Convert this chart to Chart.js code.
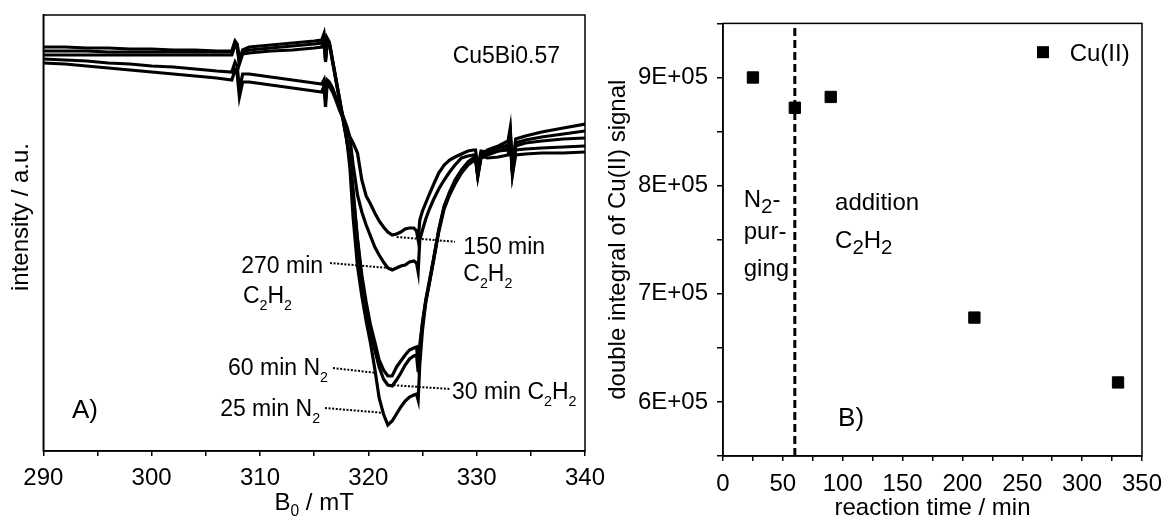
<!DOCTYPE html>
<html>
<head>
<meta charset="utf-8">
<script src="https://cdn.jsdelivr.net/npm/chart.js@4.4.1/dist/chart.umd.min.js"></script>
<style>
  html, body { margin: 0; padding: 0; background: #fff; overflow: hidden; width: 1171px; height: 517px; }
  #left { position: absolute; left: 0; top: 0; width: 650px; height: 530px; }
  #right { position: absolute; left: 590px; top: 0; width: 581px; height: 530px; }
</style>
</head>
<body>
<div id="left"><canvas id="epr"></canvas></div>
<div id="right"><canvas id="integral"></canvas></div>
<script>
// --- panel A: EPR spectra, field in mT, intensity in arbitrary units ---
const field = [290, 292, 294, 296, 298, 300, 302, 304, 306, 307.4, 307.7, 307.9, 308.1, 308.4,
  309, 311, 313, 315, 315.7, 315.9, 316.05, 316.2, 316.4, 316.7, 317, 317.3, 317.6, 318, 318.3,
  318.6, 319, 319.4, 319.8, 320.2, 320.6, 321, 321.4, 321.8, 322.2, 322.6, 323, 323.4, 323.8,
  324.2, 324.45, 324.6, 324.75, 325, 325.3, 325.6, 326, 326.5, 327, 327.5, 328, 328.6, 329.2,
  329.7, 329.9, 330.1, 330.4, 331, 332, 332.9, 333.1, 333.3, 333.6, 334.5, 336, 338, 340];

const int25N2 = [186, 186, 185, 185, 184, 184, 183, 183, 182, 182, 192, 189, 173, 183, 186, 188, 190, 192,
  193, 199, 175, 195, 191, 173, 155, 137, 119, 95, 65, 15, -33, -63, -88, -110, -136, -165, -181, -192,
  -188, -181, -174, -168, -164, -162, -161, -167, -132, -97, -69, -52, -28, 3, 27, 41, 53, 63, 71, 75,
  76, 58, 78, 83, 87, 92, 105, 63, 94, 97, 101, 105, 109];
const int60N2 = [182, 182, 182, 181, 181, 181, 181, 181, 181, 181, 191, 188, 171, 181, 183, 185, 187, 189,
  190, 197, 173, 193, 190, 172, 154, 136, 118, 94, 73, 38, -6, -42, -69, -92, -109, -127, -137, -143,
  -143, -134, -128, -122, -117, -115, -114, -129, -112, -89, -67, -50, -27, 3, 26, 40, 51, 61, 69, 73,
  74, 57, 76, 80, 85, 88, 101, 62, 90, 93, 96, 99, 102];
const int30C2H2 = [178, 178, 178, 178, 178, 178, 178, 178, 178, 178, 188, 185, 169, 179, 180, 182, 183, 185,
  186, 194, 171, 190, 189, 171, 153, 135, 117, 93, 75, 43, -7, -48, -75, -98, -117, -134, -146, -152,
  -153, -147, -140, -132, -126, -123, -122, -139, -117, -91, -69, -52, -29, 1, 24, 38, 49, 60, 68, 72,
  73, 56, 75, 78, 82, 85, 97, 61, 87, 90, 92, 94, 95];
const int150C2H2 = [174, 173, 172, 170, 169, 167, 166, 164, 162, 161, 171, 167, 143, 159, 159, 156, 153, 150,
  149, 153, 133, 153, 151, 145, 136, 127, 119, 107, 96, 90, 80, 53, 37, 29, 20, 12, 6, 1,
  -2, -1, 1, 4, 5, 5, 2, -7, 13, 22, 30, 38, 48, 60, 68, 73, 76, 79, 82, 83,
  83, 65, 82, 81, 82, 83, 95, 60, 83, 84, 85, 86, 87];
const int270C2H2 = [170, 169, 167, 165, 163, 161, 159, 157, 155, 153, 163, 159, 136, 151, 151, 148, 145, 142,
  141, 147, 126, 149, 147, 141, 133, 124, 116, 105, 95, 68, 38, 21, 8, -3, -14, -22, -29, -35,
  -37, -35, -33, -32, -29, -28, -30, -39, -7, 3, 14, 23, 33, 44, 53, 61, 68, 75, 77, 78,
  78, 61, 77, 75, 76, 78, 91, 58, 78, 79, 80, 80, 81];

// --- panel B: double integral vs reaction time ---
const reactionTime = [25, 60, 90, 210, 330];
const cuSignal = [900000, 872000, 882000, 678000, 618000];
const purgeEnd = 60;

Chart.defaults.font.family = '"Liberation Sans", Arial, sans-serif';
Chart.defaults.font.size = 24;
Chart.defaults.color = '#000';

function parts(str) {
  return str.split(/(_\w)/).filter(Boolean).map(s => s[0] === '_' ? [s.slice(1), true] : [s, false]);
}

function richText(ctx, str, x, yMid, size, align, subScale, subDrop) {
  const segs = parts(str);
  const fontFor = sub => (sub ? size * subScale : size) + 'px "Liberation Sans", Arial, sans-serif';
  const widths = segs.map(([t, sub]) => { ctx.font = fontFor(sub); return ctx.measureText(t).width; });
  const total = widths.reduce((a, b) => a + b, 0);
  let cx = align === 'right' ? x - total : align === 'center' ? x - total / 2 : x;
  const base = yMid + 0.358 * size;
  ctx.textAlign = 'left';
  ctx.textBaseline = 'alphabetic';
  segs.forEach(([t, sub], i) => {
    ctx.font = fontFor(sub);
    ctx.fillText(t, cx, sub ? base + size * subDrop : base);
    cx += widths[i];
  });
}

const frame = {
  id: 'frame',
  afterDraw(chart) {
    const { ctx, chartArea: a } = chart;
    ctx.save();
    ctx.strokeStyle = '#000';
    ctx.lineWidth = 1.5;
    ctx.strokeRect(a.left, a.top, a.right - a.left, a.bottom - a.top);
    ctx.restore();
  }
};

// label positions in data units (mT, a.u.)
const eprNotes = [
  { t: '150 min', b: 328.77, i: -13, align: 'left' },
  { t: 'C_2H_2', b: 328.77, i: -40, align: 'left' },
  { t: '270 min', b: 315.82, i: -32, align: 'right' },
  { t: 'C_2H_2', b: 308.43, i: -62, align: 'left' },
  { t: '60 min N_2', b: 316.28, i: -134, align: 'right' },
  { t: '30 min C_2H_2', b: 327.72, i: -158, align: 'left' },
  { t: '25 min N_2', b: 315.55, i: -175, align: 'right' },
];
const eprLeaders = [
  [322.62, -4, 328.0, -8.7],
  [316.46, -30, 322.16, -35.3],
  [316.74, -135, 320.8, -140],
  [322.0, -152, 327.54, -156],
  [316.0, -175, 321.23, -179.7],
];

const eprText = {
  id: 'eprText',
  afterDraw(chart) {
    const { ctx, scales: { x, y } } = chart;
    ctx.save();
    ctx.fillStyle = '#000';
    ctx.strokeStyle = '#000';
    ctx.lineWidth = 2;
    ctx.setLineDash([2, 1.6]);
    eprLeaders.forEach(l => {
      ctx.beginPath();
      ctx.moveTo(x.getPixelForValue(l[0]), y.getPixelForValue(l[1]));
      ctx.lineTo(x.getPixelForValue(l[2]), y.getPixelForValue(l[3]));
      ctx.stroke();
    });
    ctx.setLineDash([]);
    eprNotes.forEach(n => richText(ctx, n.t, x.getPixelForValue(n.b), y.getPixelForValue(n.i), 23, n.align, 0.62, 0.28));
    richText(ctx, 'A)', x.getPixelForValue(292.65), y.getPixelForValue(-176), 26, 'left', 1, 0);
    richText(ctx, 'Cu5Bi0.57', x.getPixelForValue(337.7), y.getPixelForValue(178), 23, 'right', 1, 0);
    // axis titles
    richText(ctx, 'B_0 / mT', (x.left + x.right) / 2, 501, 24, 'center', 0.65, 0.28);
    ctx.translate(21, 217);
    ctx.rotate(-Math.PI / 2);
    ctx.font = '24px "Liberation Sans", Arial, sans-serif';
    ctx.textAlign = 'center';
    ctx.textBaseline = 'middle';
    ctx.fillText('intensity / a.u.', 0, 0);
    ctx.restore();
  }
};

const spectra = [
  ['25 min N2', int25N2], ['60 min N2', int60N2], ['30 min C2H2', int30C2H2],
  ['150 min C2H2', int150C2H2], ['270 min C2H2', int270C2H2],
];

new Chart(document.getElementById('epr'), {
  type: 'line',
  data: {
    datasets: spectra.map(([label, vals]) => ({
      label,
      data: field.map((b, i) => ({ x: b, y: vals[i] })),
      borderColor: '#000',
      borderWidth: 3.2,
      pointRadius: 0,
      tension: 0,
      fill: false,
    })),
  },
  options: {
    animation: false,
    responsive: true,
    maintainAspectRatio: false,
    devicePixelRatio: 1,
    layout: { padding: { top: 15, right: 65, left: 0, bottom: 0 } },
    plugins: { legend: { display: false }, tooltip: { enabled: false } },
    scales: {
      x: {
        type: 'linear', min: 290, max: 340,
        afterFit: s => { s.height = 79; },
        ticks: { stepSize: 5, autoSkip: false, maxRotation: 0, padding: 8, callback: v => (v % 10 === 0 ? v : '') },
        grid: { drawOnChartArea: false, tickLength: 5, color: '#000', lineWidth: 1.5 },
        border: { color: '#000', width: 1.5 },
      },
      y: {
        min: -218, max: 218,
        afterFit: s => { s.width = 43.3; },
        ticks: { display: false },
        grid: { display: false },
        border: { color: '#000', width: 1.5 },
      },
    },
  },
  plugins: [frame, eprText],
});

// label positions in data units (min, signal)
const kinNotes = [
  { t: 'N_2-', m: 17.3, s: 788300 },
  { t: 'pur-', m: 17.3, s: 758200 },
  { t: 'ging', m: 17.3, s: 724200 },
  { t: 'addition', m: 93.6, s: 785800 },
  { t: 'C_2H_2', m: 93.6, s: 750400 },
];

const kinText = {
  id: 'kinText',
  afterDraw(chart) {
    const { ctx, scales: { x, y } } = chart;
    ctx.save();
    ctx.fillStyle = '#000';
    kinNotes.forEach(n => richText(ctx, n.t, x.getPixelForValue(n.m), y.getPixelForValue(n.s), 24, 'left', 0.85, 0.27));
    richText(ctx, 'B)', x.getPixelForValue(96.1), y.getPixelForValue(586300), 26, 'left', 1, 0);
    // legend
    const lx = x.getPixelForValue(267.3), ly = y.getPixelForValue(923400);
    ctx.fillRect(lx - 6, ly - 6, 12, 12);
    richText(ctx, 'Cu(II)', x.getPixelForValue(289.6), ly, 24, 'left', 1, 0);
    ctx.restore();
  }
};

const yMin = 550000, yMax = 950000;

new Chart(document.getElementById('integral'), {
  type: 'scatter',
  data: {
    datasets: [
      {
        label: 'Cu(II)',
        data: reactionTime.map((t, i) => ({ x: t, y: cuSignal[i] })),
        pointStyle: 'rect',
        pointRadius: 8,
        backgroundColor: '#000',
        borderColor: '#000',
        borderWidth: 1,
      },
      {
        label: 'purge end',
        type: 'line',
        data: [{ x: purgeEnd, y: yMin }, { x: purgeEnd, y: yMax }],
        borderColor: '#000',
        borderWidth: 3,
        borderDash: [8, 4],
        pointRadius: 0,
      },
    ],
  },
  options: {
    animation: false,
    responsive: true,
    maintainAspectRatio: false,
    devicePixelRatio: 1,
    layout: { padding: { top: 21.7, right: 23.3, left: 0, bottom: 0 } },
    plugins: { legend: { display: false }, tooltip: { enabled: false } },
    scales: {
      x: {
        type: 'linear', min: 0, max: 350,
        afterFit: s => { s.height = 74; },
        ticks: { stepSize: 25, autoSkip: false, maxRotation: 0, padding: 9, callback: v => (v % 50 === 0 ? v : '') },
        grid: { drawOnChartArea: false, tickLength: 5, color: '#000', lineWidth: 1.5 },
        border: { color: '#000', width: 1.5 },
        title: { display: true, text: 'reaction time / min', font: { size: 24 }, padding: { top: 0, bottom: 7 } },
      },
      y: {
        min: yMin, max: yMax,
        afterFit: s => { s.width = 133; },
        ticks: {
          stepSize: 50000, autoSkip: false, padding: 9,
          callback: v => (Math.round(v) % 100000 === 0 ? Math.round(v / 100000) + 'E+05' : ''),
        },
        grid: { drawOnChartArea: false, tickLength: 6, color: '#000', lineWidth: 1.5 },
        border: { color: '#000', width: 1.5 },
        title: { display: true, text: 'double integral of Cu(II) signal', font: { size: 24 }, padding: { top: 14, bottom: 0 } },
      },
    },
  },
  plugins: [frame, kinText],
});
</script>
</body>
</html>
